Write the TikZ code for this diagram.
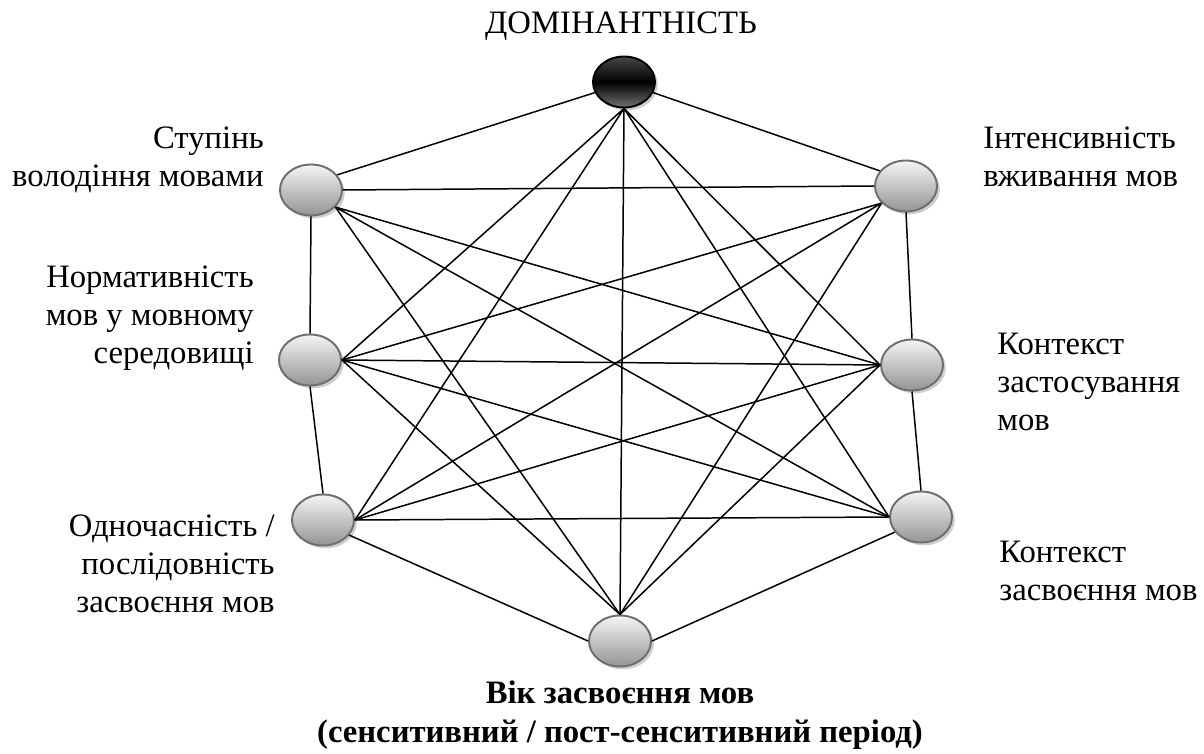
\documentclass[tikz,border=0pt]{standalone}
\usepackage{fontspec}
\setmainfont{Liberation Serif}
\usetikzlibrary{shapes.geometric,shadows,positioning}
\definecolor{rim}{HTML}{6E6E6E}
\definecolor{ink}{HTML}{000000}
\tikzset{
 factor/.style={ellipse,draw=rim,line width=1.1pt,minimum width=1.24cm,minimum height=1.02cm,inner sep=0pt,top color=black!4,bottom color=black!42,drop shadow={shadow xshift=1.6pt,shadow yshift=-1.6pt,fill=black!35,opacity=0.55}},
 dominant/.style={factor,draw=ink,top color=black!72,bottom color=black!55,middle color=black},
 factortext/.style={inner sep=0pt,font=\fontsize{18.6}{21.8}\selectfont},
 link/.style={line width=0.85pt,draw=ink}}

\begin{document}
\begin{tikzpicture}[x=1cm,y=1cm]
\useasboundingbox (0,0) rectangle (24.08,15.06);

\node[dominant] (dom) at (12.48,13.42) {};
\node[factor] (degree) at (6.22,11.26) {};
\node[factor] (intens) at (18.12,11.34) {};
\node[factor] (norm) at (6.20,7.86) {};
\node[factor] (ctxuse) at (18.24,7.76) {};
\node[factor] (simult) at (6.46,4.66) {};
\node[factor] (ctxacq) at (18.42,4.72) {};
\node[factor] (age) at (12.40,2.24) {};

\node[factortext] (domtext) at (12.42,14.54) {ДОМІНАНТНІСТЬ};
\node[factortext,align=right,anchor=east] (degreetext) at (5.28,11.86) {Ступінь\\володіння мовами};
\node[factortext,align=right,anchor=east] (normtext) at (5.08,8.70) {Нормативність\\мов у мовному\\середовищі};
\node[factortext,align=right,anchor=east] (simulttext) at (5.50,3.78) {Одночасність /\\послідовність\\засвоєння мов};
\node[factortext,align=left,anchor=west] (intenstext) at (19.66,11.92) {Інтенсивність\\вживання мов};
\node[factortext,align=left,anchor=west] (ctxusetext) at (19.94,7.42) {Контекст\\застосування\\мов};
\node[factortext,align=left,anchor=west] (ctxacqtext) at (19.98,3.64) {Контекст\\засвоєння мов};
\node[factortext,align=center,font=\fontsize{18.6}{21.8}\selectfont\bfseries] (agetext) at (12.40,0.76) {Вік засвоєння мов\\(сенситивний / пост-сенситивний період)};

% dominant factor
\draw[link] (dom.200) -- (degree.30);
\draw[link] (dom.-20) -- (intens.150);
\draw[link] (dom.south) -- (norm.east) (dom.south) -- (simult.east) (dom.south) -- (ctxuse.west) (dom.south) -- (ctxacq.west) (dom.south) -- (age.north);
% left column
\draw[link] (degree.east) -- (intens.west);
\draw[link] (degree.south) -- (norm.north);
\draw[link] (degree.-35) -- (ctxuse.west) (degree.-35) -- (ctxacq.west) (degree.-35) -- (age.north);
\draw[link] (intens.215) -- (norm.east) (intens.215) -- (simult.east) (intens.215) -- (age.north);
\draw[link] (intens.south) -- (ctxuse.north);
\draw[link] (norm.east) -- (ctxuse.west) (norm.east) -- (ctxacq.west) (norm.east) -- (age.north);
\draw[link] (norm.south) -- (simult.north);
\draw[link] (ctxuse.west) -- (simult.east) (ctxuse.west) -- (age.north);
\draw[link] (ctxuse.south) -- (ctxacq.north);
\draw[link] (simult.east) -- (ctxacq.west);
\draw[link] (simult.-30) -- (age.west);
\draw[link] (ctxacq.-150) -- (age.east);
\end{tikzpicture}
\end{document}
